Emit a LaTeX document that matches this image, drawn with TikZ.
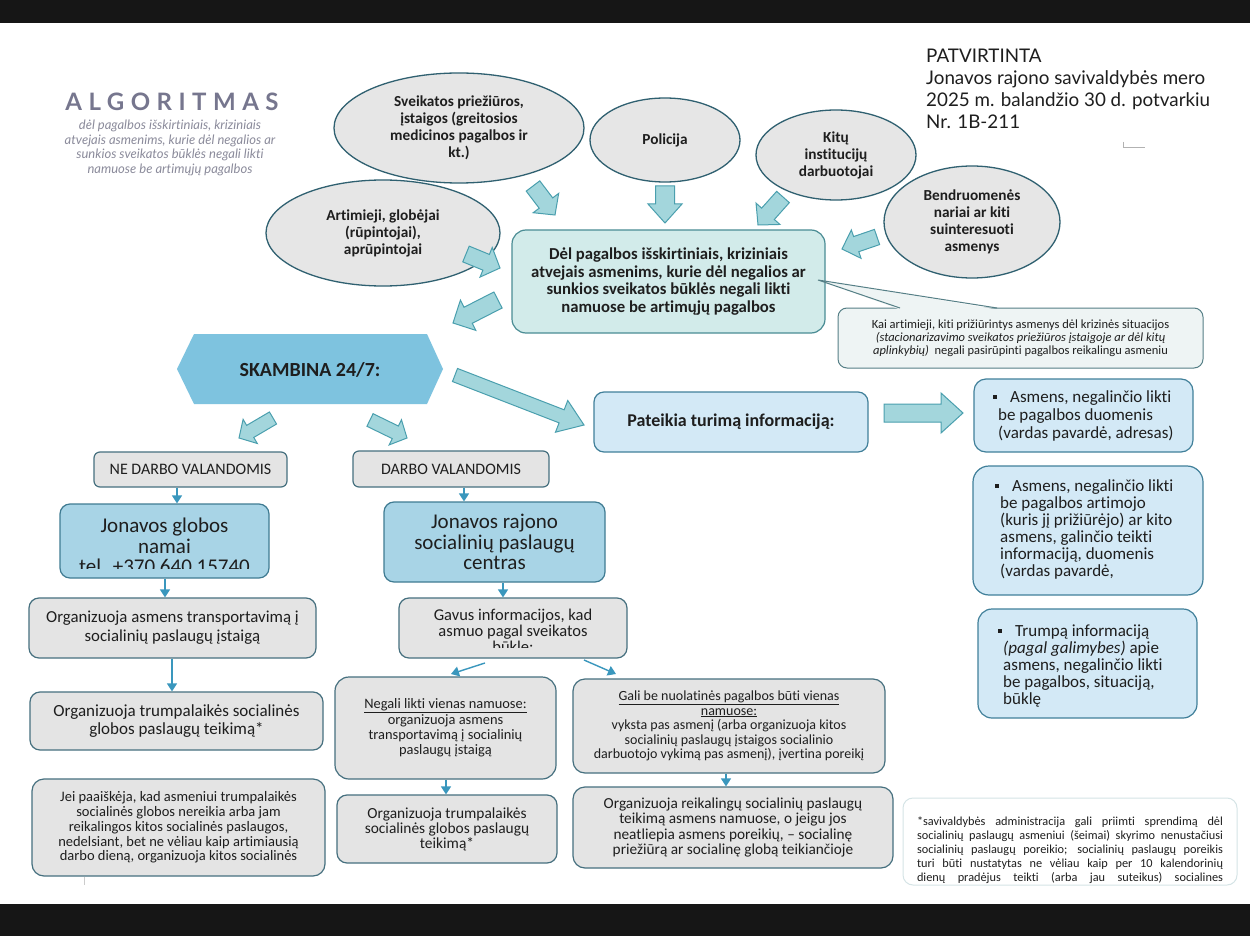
\documentclass[tikz,border=0pt]{standalone}
\usepackage{fontspec}
\setmainfont{Carlito}[Ligatures=NoCommon]
\newfontfamily\latofont{Lato}[Ligatures=NoCommon]
\usetikzlibrary{shapes.geometric,arrows.meta,calc}
\definecolor{txt}{HTML}{1E1E1E}
\definecolor{ellf}{HTML}{E6E6E6}
\definecolor{ellc}{HTML}{2F6070}
\definecolor{barf}{HTML}{A3D6DC}
\definecolor{barc}{HTML}{4A9FAE}
\definecolor{cenf}{HTML}{D2EBEA}
\definecolor{cenc}{HTML}{4A8C94}
\definecolor{calf}{HTML}{EEF4F4}
\definecolor{calc}{HTML}{557F86}
\definecolor{hexf}{HTML}{7EC3DF}
\definecolor{greyf}{HTML}{E4E4E4}
\definecolor{greyc}{HTML}{46707F}
\definecolor{bluef}{HTML}{A8D4E6}
\definecolor{bluec}{HTML}{3F7B92}
\definecolor{lbluef}{HTML}{D3E9F6}
\definecolor{lbluec}{HTML}{41809A}
\definecolor{sarr}{HTML}{3A97BD}
\definecolor{titc}{HTML}{76768E}
\definecolor{subc}{HTML}{8B8B9B}
\definecolor{footc}{HTML}{D5E4E6}
\definecolor{barblack}{HTML}{161616}
\newcommand\fs[2]{\fontsize{#1}{#2}\selectfont}
\newcommand\bul{\raisebox{0.22em}{\rule{4pt}{4pt}}}
\newcommand\barrow[5]{%
  \coordinate (bh) at ($(#2)!#5!(#1)$);
  \draw[blockarr] ($(#1)!#3!90:(#2)$) -- ($(bh)!#3!90:(#2)$) -- ($(bh)!#4!90:(#2)$) -- (#2)
    -- ($(bh)!#4!-90:(#2)$) -- ($(bh)!#3!-90:(#2)$) -- ($(#1)!#3!-90:(#2)$) -- cycle;}
\begin{document}
\begin{tikzpicture}[x=1pt,y=-1pt,
  every node/.style={text=txt},
  ell/.style={ellipse, draw=ellc, fill=ellf, line width=1.3pt, inner sep=0pt, align=center, font=\fs{15.3}{17}\bfseries},
  blockarr/.style={fill=barf, draw=barc, line width=1pt, line join=miter},
  cenbox/.style={rectangle, rounded corners=14pt, draw=cenc, fill=cenf, line width=1.2pt, inner sep=0pt, align=center},
  greybox/.style={rectangle, rounded corners=10pt, draw=greyc, fill=greyf, line width=1.2pt, inner sep=0pt, align=center},
  bluebox/.style={rectangle, rounded corners=10pt, draw=bluec, fill=bluef, line width=1.2pt, inner sep=0pt, align=center},
  lbluebox/.style={rectangle, rounded corners=12pt, draw=lbluec, fill=lbluef, line width=1.2pt, inner sep=0pt, align=center},
  txtnode/.style={inner sep=0pt, align=center},
  sarrow/.style={draw=sarr, line width=1.4pt, -{Triangle[width=10pt,length=8pt]}}
]
\useasboundingbox (0,0) rectangle (1250,936);
\fill[white] (0,0) rectangle (1250,936);
\fill[barblack] (0,0) rectangle (1250,23);
\fill[barblack] (0,904) rectangle (1250,936);

% title
\node[inner sep=0pt, text=titc, font=\latofont\fs{24}{26}\bfseries\addfontfeatures{LetterSpace=27}] (title) at (172,102) {ALGORITMAS};
\node[txtnode, text=subc, font=\latofont\fs{13}{14.6}\itshape] (subtitle) at (170,148)
 {dėl pagalbos išskirtiniais, kriziniais\\atvejais asmenims, kurie dėl negalios ar\\sunkios sveikatos būklės negali likti\\namuose be artimųjų pagalbos};

% approval
\node[inner sep=0pt, anchor=west, align=left, font=\latofont\fs{18.8}{22}] (patv) at (926,89)
 {PATVIRTINTA\\Jonavos rajono savivaldybės mero\\2025 m. balandžio 30 d. potvarkiu\\Nr. 1B-211};
\draw[gray!60, line width=0.8pt] (1123,142) -- (1123,147.5) -- (1145,147.5);

% ellipses
\node[ell, minimum width=234, minimum height=106] (artim) at (383,233) {Artimieji, globėjai\\(rūpintojai),\\aprūpintojai};
\node[ell, minimum width=250, minimum height=110] (sveik) at (459,128) {Sveikatos priežiūros,\\įstaigos (greitosios\\medicinos pagalbos ir\\kt.)};
\node[ell, minimum width=150, minimum height=84] (polic) at (665,140) {Policija};
\node[ell, minimum width=160, minimum height=90] (kitu) at (836,155) {Kitų\\institucijų\\darbuotojai};
\node[ell, minimum width=176, minimum height=112] (bendr) at (972,222) {Bendruomenės\\nariai ar kiti\\suinteresuoti\\asmenys};

% central box
\node[cenbox, minimum width=313, minimum height=103, font=\fs{16.7}{17.4}\bfseries] (central) at (668.5,281.5)
 {Dėl pagalbos išskirtiniais, kriziniais\\atvejais asmenims, kurie dėl negalios ar\\sunkios sveikatos būklės negali likti\\namuose be artimųjų pagalbos};

% callout
\node[rectangle, rounded corners=9pt, draw=calc, fill=calf, line width=1pt, minimum width=365, minimum height=60, inner sep=0pt] (callout) at (1020.5,338) {};
\coordinate (cp) at (818,280);
\coordinate (cpa) at (900,308);
\coordinate (cpb) at (997,308);
\fill[calf] (cp) -- ($(cpa)+(0,1.5)$) -- ($(cpb)+(0,1.5)$) -- cycle;
\draw[calc, line width=1pt] (cpa) -- (cp) -- (cpb);
\node[txtnode, font=\fs{12.5}{13}] (calltext) at (1020.5,338)
 {Kai artimieji, kiti prižiūrintys asmenys dėl krizinės situacijos\\\textit{(stacionarizavimo sveikatos priežiūros įstaigoje ar dėl kitų}\\\textit{aplinkybių)}\ \ negali pasirūpinti pagalbos reikalingu asmeniu};

% block arrows
\coordinate (a1t) at (533,186); \coordinate (a1h) at (555,215);
\coordinate (a2t) at (665,186); \coordinate (a2h) at (665,223);
\coordinate (a3t) at (783,197); \coordinate (a3h) at (758,225);
\coordinate (a4t) at (877,237); \coordinate (a4h) at (842,249);
\coordinate (a5t) at (466,254); \coordinate (a5h) at (500,268);
\coordinate (a6t) at (498,300); \coordinate (a6h) at (453,323);
\coordinate (a7t) at (273,418); \coordinate (a7h) at (239,438);
\coordinate (a8t) at (370,420); \coordinate (a8h) at (407,438);
\coordinate (a9t) at (455,375); \coordinate (a9h) at (584,425);
\coordinate (a10t) at (884,413); \coordinate (a10h) at (963,413);
\barrow{a1t}{a1h}{8.5pt}{16pt}{15pt}
\barrow{a2t}{a2h}{9.5pt}{17pt}{19pt}
\barrow{a3t}{a3h}{8.5pt}{16pt}{15pt}
\barrow{a4t}{a4h}{8pt}{15pt}{15pt}
\barrow{a5t}{a5h}{8.5pt}{16pt}{15pt}
\barrow{a6t}{a6h}{9pt}{17pt}{17pt}
\barrow{a7t}{a7h}{7pt}{14pt}{13pt}
\barrow{a8t}{a8h}{7pt}{14pt}{13pt}
\barrow{a9t}{a9h}{7pt}{17pt}{24pt}
\barrow{a10t}{a10h}{9pt}{20pt}{22pt}

% hexagon
\fill[hexf] (177,369) -- (194,334) -- (427,334) -- (443,369) -- (427,404) -- (194,404) -- cycle;
\node[inner sep=0pt, font=\fs{20}{22}\bfseries] (skamb) at (310,370) {SKAMBINA 24/7:};

% pateikia + info
\node[lbluebox, rounded corners=10pt, minimum width=274, minimum height=60, font=\fs{18}{20}\bfseries] (pateik) at (731,422) {Pateikia turimą informaciją:};
\node[lbluebox, minimum width=219, minimum height=73] (info1) at (1083.5,415.5) {};
\node[inner sep=0pt, anchor=west, align=left, font=\fs{17}{18}] (info1t) at (998,416)
 {\hspace*{-5pt}\bul\hspace{13pt}Asmens, negalinčio likti\\be pagalbos duomenis\\(vardas pavardė, adresas)};
\node[lbluebox, rounded corners=16pt, minimum width=230, minimum height=129] (info2) at (1088,530.5) {};
\node[inner sep=0pt, anchor=west, align=left, font=\fs{17}{17}] (info2t) at (1000,529.5)
 {\hspace*{-5pt}\bul\hspace{13pt}Asmens, negalinčio likti\\be pagalbos artimojo\\(kuris jį prižiūrėjo) ar kito\\asmens, galinčio teikti\\informaciją, duomenis\\(vardas pavardė,};
\node[lbluebox, rounded corners=14pt, minimum width=219, minimum height=109] (info3) at (1087.5,663.5) {};
\node[inner sep=0pt, anchor=west, align=left, font=\fs{17}{17}] (info3t) at (1003,666)
 {\hspace*{-5pt}\bul\hspace{13pt}Trumpą informaciją\\\textit{(pagal galimybes)} apie\\asmens, negalinčio likti\\be pagalbos, situaciją,\\būklę};

% left branch
\node[greybox, rounded corners=6pt, minimum width=193, minimum height=35, font=\fs{16}{17}] (nedarbo) at (190.5,469.5) {NE DARBO VALANDOMIS};
\node[greybox, rounded corners=6pt, minimum width=196, minimum height=36, font=\fs{16}{17}] (darbo) at (451,469) {DARBO VALANDOMIS};
\node[bluebox, minimum width=209, minimum height=74] (jglobos) at (164.5,541) {};
\begin{scope}
\clip (60,504) rectangle (269,568);
\node[txtnode, font=\fs{21}{20.5}] (jglobost) at (164.5,546) {Jonavos globos\\namai\\tel. +370 640 15740};
\end{scope}
\node[bluebox, minimum width=221, minimum height=80, font=\fs{21}{20.5}] (jrajono) at (494.5,542) {Jonavos rajono\\socialinių paslaugų\\centras};

\node[greybox, minimum width=287, minimum height=60, font=\fs{16.8}{19}] (transp) at (172.5,628) {Organizuoja asmens transportavimą į\\socialinių paslaugų įstaigą};
\node[greybox, minimum width=293, minimum height=58, font=\fs{17}{18.5}] (trump1) at (176.5,721) {Organizuoja trumpalaikės socialinės\\globos paslaugų teikimą*};
\node[greybox, rounded corners=12pt, minimum width=293, minimum height=97, font=\fs{14.5}{14.8}] (jei) at (178.5,827.5)
 {Jei paaiškėja, kad asmeniui trumpalaikės\\socialinės globos nereikia arba jam\\reikalingos kitos socialinės paslaugos,\\nedelsiant, bet ne vėliau kaip artimiausią\\darbo dieną, organizuoja kitos socialinės};
\draw[gray!40, line width=1pt] (84,877) -- (84,885);

% right branch
\node[greybox, minimum width=228, minimum height=60] (gavus) at (513,628) {};
\begin{scope}
\clip (399,598) rectangle (627,647);
\node[txtnode, font=\fs{16.5}{15.8}] (gavust) at (513,632) {Gavus informacijos, kad\\asmuo pagal sveikatos\\būklę:};
\end{scope}
\node[greybox, rounded corners=14pt, minimum width=221, minimum height=102, font=\fs{14.4}{15.3}] (negali) at (445.5,728)
 {\underline{Negali likti vienas namuose:}\\organizuoja asmens\\transportavimą į socialinių\\paslaugų įstaigą};
\node[greybox, minimum width=220, minimum height=68, font=\fs{15.4}{15}] (trump2) at (447,829) {Organizuoja trumpalaikės\\socialinės globos paslaugų\\teikimą*};
\node[greybox, rounded corners=12pt, minimum width=312, minimum height=94, font=\fs{14}{14.5}] (gali) at (729,726)
 {\underline{Gali be nuolatinės pagalbos būti vienas}\\\underline{namuose:}\\vyksta pas asmenį (arba organizuoja kitos\\socialinių paslaugų įstaigos socialinio\\darbuotojo vykimą pas asmenį), įvertina poreikį};
\node[greybox, rounded corners=12pt, minimum width=320, minimum height=81, font=\fs{15.3}{15.5}] (reik) at (733,827.5)
 {Organizuoja reikalingų socialinių paslaugų\\teikimą asmens namuose, o jeigu jos\\neatliepia asmens poreikių, -- socialinę\\priežiūrą ar socialinę globą teikiančioje};

% footnote
\node[rectangle, rounded corners=10pt, draw=footc, fill=white, line width=1pt, minimum width=334, minimum height=87, inner sep=0pt] (foot) at (1070,841.5) {};
\node[inner sep=0pt, align=left, font=\fs{12.3}{14}] (foott) at (1070,850)
 {\makebox[306pt][s]{*savivaldybės administracija gali priimti sprendimą dėl}\\
  \makebox[306pt][s]{socialinių paslaugų asmeniui (šeimai) skyrimo nenustačiusi}\\
  \makebox[306pt][s]{socialinių paslaugų poreikio; socialinių paslaugų poreikis}\\
  \makebox[306pt][s]{turi būti nustatytas ne vėliau kaip per 10 kalendorinių}\\
  \makebox[306pt][s]{dienų pradėjus teikti (arba jau suteikus) socialines}};

% small connectors
\coordinate (xa) at (177,0); \coordinate (xb) at (464,0); \coordinate (xc) at (165,0);
\coordinate (xd) at (172,0); \coordinate (xe) at (503,0); \coordinate (xf) at (446,0);
\coordinate (xg) at (726,0);
\draw[sarrow] (nedarbo.south -| xa) -- (jglobos.north -| xa);
\draw[sarrow] (darbo.south -| xb) -- (jrajono.north -| xb);
\draw[sarrow] (jglobos.south -| xc) -- (transp.north -| xc);
\draw[sarrow] (transp.south -| xd) -- (trump1.north -| xd);
\draw[sarrow] (jrajono.south -| xe) -- (gavus.north -| xe);
\coordinate (g1) at (485,663); \coordinate (g1h) at (451,674);
\coordinate (g2) at (584,660); \coordinate (g2h) at (616,674);
\draw[sarrow] (g1) -- (g1h);
\draw[sarrow] (g2) -- (g2h);
\draw[sarrow] (negali.south -| xf) -- (trump2.north -| xf);
\draw[sarrow] (gali.south -| xg) -- (reik.north -| xg);
\end{tikzpicture}
\end{document}
